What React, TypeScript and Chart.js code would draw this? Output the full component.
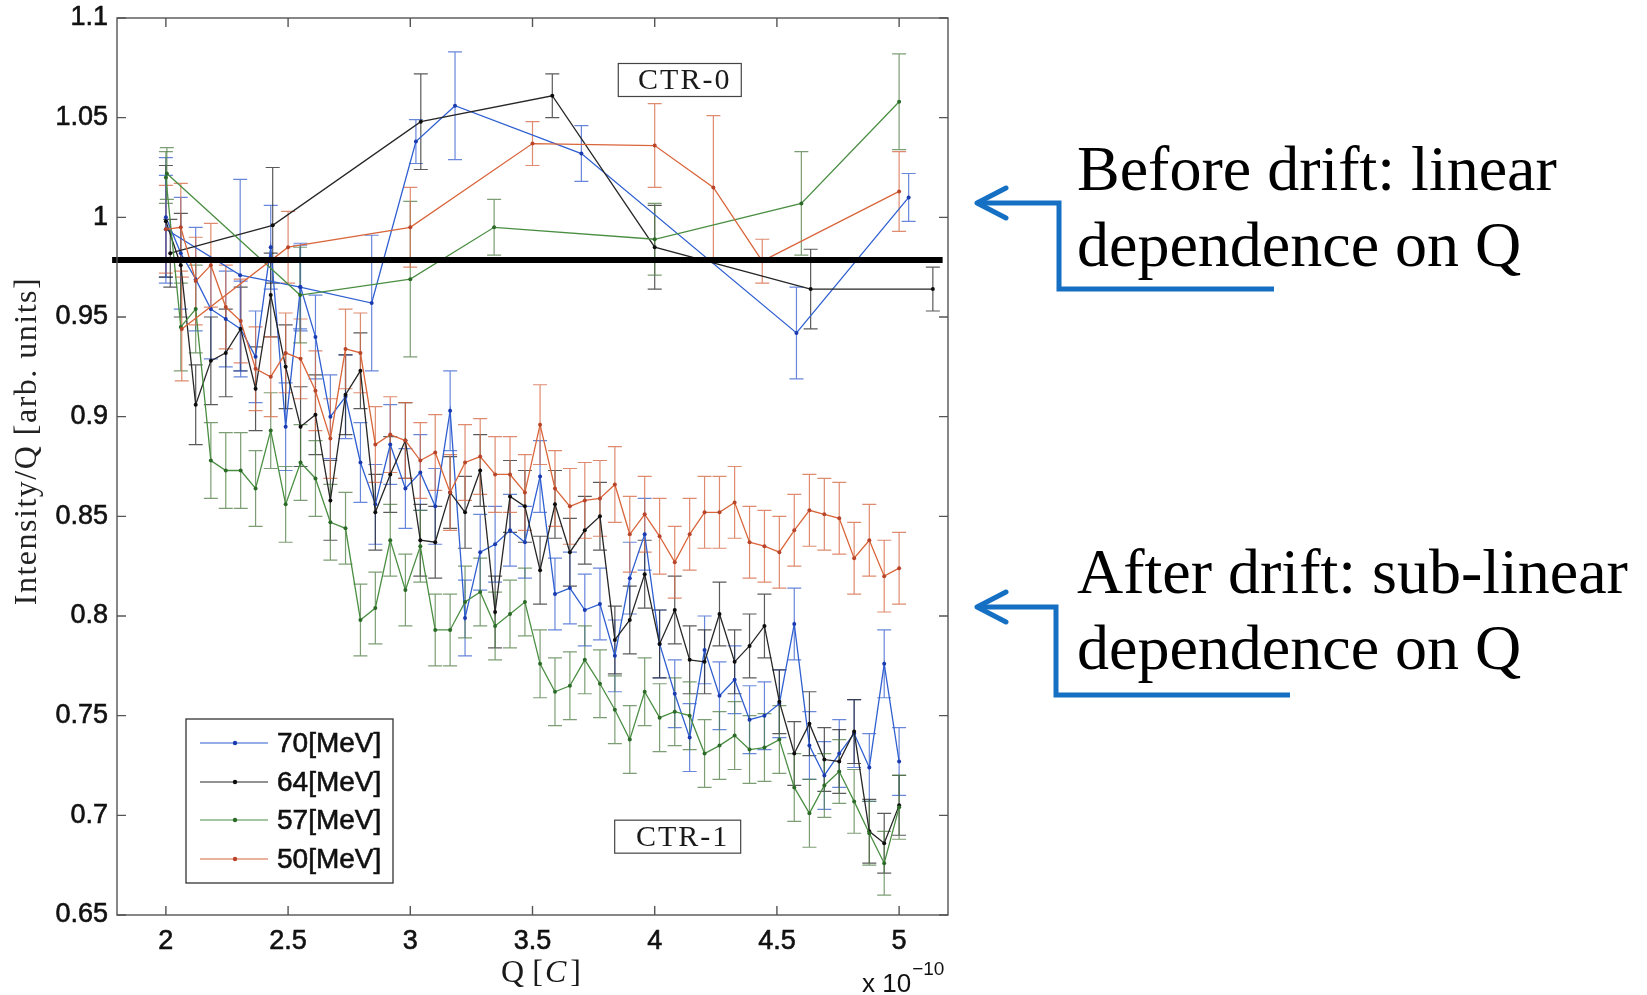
import React, { useEffect, useRef } from 'react';
import { Chart, registerables } from 'chart.js';
Chart.register(...registerables);

// ---------- data ----------
const seriesLabels = ['70[MeV]', '64[MeV]', '57[MeV]', '50[MeV]'];

// CTR-1 (after drift) – common charge values (units of 1e-10 C)
const qCtr1 = [2.000, 2.061, 2.122, 2.184, 2.245, 2.306, 2.367, 2.429, 2.490, 2.551,
  2.612, 2.673, 2.735, 2.796, 2.857, 2.918, 2.980, 3.041, 3.102, 3.163,
  3.224, 3.286, 3.347, 3.408, 3.469, 3.531, 3.592, 3.653, 3.714, 3.776,
  3.837, 3.898, 3.959, 4.020, 4.082, 4.143, 4.204, 4.265, 4.327, 4.388,
  4.449, 4.510, 4.571, 4.633, 4.694, 4.755, 4.816, 4.878, 4.939, 5.000];

const blueCtr1 = [1.000, 0.982, 0.969, 0.954, 0.949, 0.944, 0.930, 0.985, 0.895, 0.965,
  0.940, 0.900, 0.910, 0.877, 0.856, 0.886, 0.864, 0.872, 0.855, 0.903,
  0.799, 0.832, 0.836, 0.843, 0.837, 0.870, 0.811, 0.814, 0.803, 0.806,
  0.780, 0.819, 0.841, 0.786, 0.761, 0.739, 0.783, 0.760, 0.768, 0.748,
  0.750, 0.756, 0.796, 0.735, 0.720, 0.731, 0.741, 0.724, 0.776, 0.727];
const blueCtr1Err = [0.030, 0.028, 0.026, 0.025, 0.024, 0.024, 0.023, 0.021, 0.022, 0.022,
  0.021, 0.021, 0.021, 0.020, 0.020, 0.020, 0.020, 0.019, 0.019, 0.020,
  0.019, 0.019, 0.019, 0.018, 0.018, 0.018, 0.018, 0.018, 0.018, 0.018,
  0.018, 0.018, 0.018, 0.017, 0.017, 0.017, 0.017, 0.017, 0.017, 0.017,
  0.017, 0.017, 0.018, 0.017, 0.017, 0.017, 0.017, 0.017, 0.017, 0.017];

const blackCtr1 = [0.998, 0.976, 0.906, 0.928, 0.932, 0.944, 0.914, 0.961, 0.925, 0.895,
  0.901, 0.858, 0.911, 0.923, 0.852, 0.871, 0.888, 0.838, 0.837, 0.862,
  0.852, 0.873, 0.802, 0.860, 0.855, 0.823, 0.856, 0.832, 0.843, 0.850,
  0.788, 0.798, 0.821, 0.786, 0.803, 0.778, 0.777, 0.801, 0.777, 0.785,
  0.795, 0.757, 0.731, 0.746, 0.728, 0.727, 0.742, 0.692, 0.686, 0.705];
const blackCtr1Err = [0.028, 0.026, 0.020, 0.022, 0.022, 0.021, 0.021, 0.021, 0.021, 0.020,
  0.020, 0.020, 0.020, 0.019, 0.019, 0.019, 0.019, 0.018, 0.018, 0.018,
  0.018, 0.018, 0.018, 0.018, 0.018, 0.017, 0.017, 0.017, 0.017, 0.017,
  0.017, 0.017, 0.017, 0.017, 0.017, 0.017, 0.016, 0.016, 0.016, 0.016,
  0.016, 0.016, 0.016, 0.016, 0.016, 0.016, 0.016, 0.016, 0.015, 0.015];

const greenCtr1 = [1.020, 0.945, 0.954, 0.878, 0.873, 0.873, 0.864, 0.893, 0.856, 0.877,
  0.869, 0.847, 0.844, 0.798, 0.804, 0.838, 0.813, 0.835, 0.793, 0.793,
  0.807, 0.812, 0.795, 0.801, 0.807, 0.776, 0.762, 0.765, 0.778, 0.766,
  0.753, 0.738, 0.762, 0.749, 0.752, 0.750, 0.731, 0.735, 0.740, 0.733,
  0.734, 0.738, 0.714, 0.701, 0.715, 0.722, 0.707, 0.691, 0.676, 0.704];
const greenCtr1Err = [0.013, 0.022, 0.022, 0.019, 0.019, 0.019, 0.019, 0.019, 0.019, 0.019,
  0.019, 0.019, 0.018, 0.018, 0.018, 0.018, 0.018, 0.018, 0.018, 0.018,
  0.018, 0.017, 0.017, 0.017, 0.017, 0.017, 0.017, 0.017, 0.017, 0.017,
  0.017, 0.017, 0.017, 0.017, 0.017, 0.017, 0.017, 0.017, 0.017, 0.017,
  0.017, 0.017, 0.017, 0.017, 0.016, 0.016, 0.016, 0.016, 0.016, 0.016];

const orangeCtr1 = [0.994, 0.995, 0.968, 0.976, 0.955, 0.948, 0.924, 0.920, 0.932, 0.929,
  0.913, 0.889, 0.934, 0.932, 0.886, 0.891, 0.888, 0.878, 0.882, 0.862,
  0.877, 0.880, 0.871, 0.871, 0.862, 0.896, 0.864, 0.855, 0.858, 0.859,
  0.866, 0.841, 0.851, 0.840, 0.827, 0.841, 0.852, 0.852, 0.857, 0.837,
  0.835, 0.832, 0.843, 0.853, 0.851, 0.849, 0.829, 0.838, 0.820, 0.824];
const orangeCtr1Err = [0.022, 0.022, 0.022, 0.021, 0.021, 0.021, 0.021, 0.020, 0.020, 0.020,
  0.020, 0.020, 0.020, 0.020, 0.019, 0.019, 0.019, 0.019, 0.019, 0.019,
  0.019, 0.019, 0.019, 0.019, 0.019, 0.020, 0.019, 0.019, 0.019, 0.019,
  0.019, 0.019, 0.019, 0.019, 0.018, 0.018, 0.018, 0.018, 0.018, 0.018,
  0.018, 0.018, 0.018, 0.018, 0.018, 0.018, 0.018, 0.018, 0.018, 0.018];

// CTR-0 (before drift) – sparse points
const blueCtr0Q = [2.000, 2.304, 2.549, 2.842, 3.023, 3.183, 3.700, 4.580, 5.039];
const blueCtr0 = [0.994, 0.971, 0.965, 0.957, 1.038, 1.056, 1.032, 0.942, 1.010];
const blueCtr0Err = [0.027, 0.048, 0.021, 0.034, 0.011, 0.027, 0.014, 0.023, 0.012];

const blackCtr0Q = [2.018, 2.437, 3.043, 3.581, 4.000, 4.638, 5.138];
const blackCtr0 = [0.982, 0.996, 1.048, 1.061, 0.985, 0.964, 0.964];
const blackCtr0Err = [0.017, 0.029, 0.024, 0.011, 0.021, 0.020, 0.011];

const greenCtr0Q = [2.004, 2.549, 3.000, 3.343, 4.000, 4.600, 5.000];
const greenCtr0 = [1.022, 0.961, 0.969, 0.995, 0.989, 1.007, 1.058];
const greenCtr0Err = [0.013, 0.024, 0.039, 0.014, 0.018, 0.026, 0.024];

const orangeCtr0Q = [2.065, 2.500, 3.000, 3.500, 4.000, 4.240, 4.440, 5.000];
const orangeCtr0 = [0.944, 0.985, 0.995, 1.037, 1.036, 1.015, 0.978, 1.013];
const orangeCtr0Err = [0.026, 0.018, 0.020, 0.011, 0.021, 0.036, 0.011, 0.020];

// linear-dependence reference line
const refLineQ = [1.78, 5.178];
const refLineValue = 0.9786;

const xTicks = [2, 2.5, 3, 3.5, 4, 4.5, 5];
const yTicks = [0.65, 0.7, 0.75, 0.8, 0.85, 0.9, 0.95, 1, 1.05, 1.1];

// ---------- styles ----------
const lineColors = ['#2f5fd0', '#262626', '#4a8e42', '#d9653a'];
const pointColors = ['#1a3ab0', '#0d0d0d', '#2b6b27', '#b8442a'];
const errColors = ['rgba(55,95,205,0.75)', 'rgba(35,35,35,0.75)', 'rgba(80,125,70,0.75)', 'rgba(215,110,75,0.8)'];

const SANS = '"Liberation Sans", Arial, sans-serif';
const SERIF = '"Liberation Serif", "Times New Roman", serif';

const mk = (qs: number[], vs: number[]) => qs.map((q, i) => ({ x: q, y: vs[i] }));

function series(idx: number, label: string, qs: number[], vs: number[], errs: number[]) {
  return {
    label,
    data: mk(qs, vs),
    errorBars: errs,
    errColor: errColors[idx],
    borderColor: lineColors[idx],
    backgroundColor: pointColors[idx],
    pointBackgroundColor: pointColors[idx],
    pointBorderColor: pointColors[idx],
    pointRadius: 2,
    pointBorderWidth: 0,
    borderWidth: 1.3,
    tension: 0,
    order: 4 - idx + 1,
  };
}

const customPlugin = {
  id: 'custom',
  beforeDatasetsDraw(chart: any) {
    const ctx = chart.ctx;
    const xs = chart.scales.x;
    const ys = chart.scales.y;
    ctx.save();
    chart.data.datasets.forEach((ds: any) => {
      if (!ds.errorBars) return;
      ctx.strokeStyle = ds.errColor;
      ctx.lineWidth = 1.2;
      ds.data.forEach((p: any, i: number) => {
        const e = ds.errorBars[i];
        const px = xs.getPixelForValue(p.x);
        const y1 = ys.getPixelForValue(p.y + e);
        const y2 = ys.getPixelForValue(p.y - e);
        ctx.beginPath();
        ctx.moveTo(px, y1); ctx.lineTo(px, y2);
        ctx.moveTo(px - 7, y1); ctx.lineTo(px + 7, y1);
        ctx.moveTo(px - 7, y2); ctx.lineTo(px + 7, y2);
        ctx.stroke();
      });
    });
    ctx.restore();
  },
  afterDraw(chart: any) {
    const ctx = chart.ctx;
    const { left, right, top, bottom } = chart.chartArea;
    const xs = chart.scales.x;
    const ys = chart.scales.y;
    ctx.save();
    // frame
    ctx.strokeStyle = '#555';
    ctx.lineWidth = 1.4;
    ctx.strokeRect(left, top, right - left, bottom - top);
    // inward ticks
    ctx.beginPath();
    xTicks.forEach((v) => {
      const px = xs.getPixelForValue(v);
      ctx.moveTo(px, bottom); ctx.lineTo(px, bottom - 9);
      ctx.moveTo(px, top); ctx.lineTo(px, top + 9);
    });
    yTicks.forEach((v) => {
      const py = ys.getPixelForValue(v);
      ctx.moveTo(left, py); ctx.lineTo(left + 9, py);
      ctx.moveTo(right, py); ctx.lineTo(right - 9, py);
    });
    ctx.stroke();

    // CTR labels
    const drawBox = (q: number, v: number, w: number, h: number, text: string) => {
      const cx = xs.getPixelForValue(q);
      const cy = ys.getPixelForValue(v);
      ctx.fillStyle = '#fff';
      ctx.fillRect(cx - w / 2, cy - h / 2, w, h);
      ctx.strokeStyle = '#444';
      ctx.lineWidth = 1.2;
      ctx.strokeRect(cx - w / 2, cy - h / 2, w, h);
      ctx.fillStyle = '#1a1a1a';
      ctx.font = `30px ${SERIF}`;
      (ctx as any).letterSpacing = '2px';
      ctx.textAlign = 'center';
      ctx.textBaseline = 'middle';
      ctx.fillText(text, cx + 5, cy + 1);
      (ctx as any).letterSpacing = '0px';
    };
    drawBox(4.1026, 1.0689, 123, 33, 'CTR-0');
    drawBox(4.094, 0.6893, 126, 33, 'CTR-1');

    // legend
    const lx = 186, ly = 719, lw = 207, lh = 164;
    ctx.fillStyle = '#fff';
    ctx.fillRect(lx, ly, lw, lh);
    ctx.strokeStyle = '#333';
    ctx.lineWidth = 1.3;
    ctx.strokeRect(lx, ly, lw, lh);
    const rowY = [743, 782, 820, 859];
    seriesLabels.forEach((lab, i) => {
      const y = rowY[i];
      ctx.strokeStyle = lineColors[i];
      ctx.lineWidth = 1.2;
      ctx.beginPath(); ctx.moveTo(200, y); ctx.lineTo(268, y); ctx.stroke();
      ctx.fillStyle = pointColors[i];
      ctx.beginPath(); ctx.arc(235, y, 2.2, 0, Math.PI * 2); ctx.fill();
      ctx.fillStyle = '#111';
      ctx.strokeStyle = '#111';
      ctx.lineWidth = 0.6;
      ctx.font = `28px ${SANS}`;
      ctx.textAlign = 'left';
      ctx.textBaseline = 'middle';
      ctx.fillText(lab, 277, y + 1);
      ctx.strokeText(lab, 277, y + 1);
    });

    // y axis title
    ctx.save();
    ctx.translate(28, 441);
    ctx.rotate(-Math.PI / 2);
    ctx.fillStyle = '#222';
    ctx.font = `32px ${SERIF}`;
    (ctx as any).letterSpacing = '1.5px';
    ctx.textAlign = 'center';
    ctx.textBaseline = 'middle';
    ctx.fillText('Intensity/Q [arb. units]', 0, 0);
    ctx.restore();

    // x axis title  Q [C]
    ctx.fillStyle = '#1a1a1a';
    ctx.textBaseline = 'alphabetic';
    ctx.textAlign = 'left';
    const partA = 'Q [';
    const partB = 'C';
    const partC = ']';
    ctx.font = `32px ${SERIF}`;
    const wA = ctx.measureText(partA).width;
    const wC = ctx.measureText(partC).width;
    ctx.font = `italic 32px ${SERIF}`;
    const wB = ctx.measureText(partB).width;
    let sx = 541 - (wA + wB + wC + 6) / 2;
    ctx.font = `32px ${SERIF}`;
    ctx.fillText(partA, sx, 982);
    sx += wA + 2;
    ctx.font = `italic 32px ${SERIF}`;
    ctx.fillText(partB, sx, 982);
    sx += wB + 4;
    ctx.font = `32px ${SERIF}`;
    ctx.fillText(partC, sx, 982);

    // x 10^-10
    ctx.fillStyle = '#111';
    ctx.font = `26px ${SANS}`;
    ctx.fillText('x 10', 862, 992);
    const w10 = ctx.measureText('x 10').width;
    ctx.font = `19px ${SANS}`;
    ctx.fillText('\u221210', 862 + w10 + 1, 975);

    // right annotations
    ctx.fillStyle = '#000';
    ctx.font = `64px ${SERIF}`;
    ctx.fillText('Before drift: linear', 1077, 190);
    ctx.fillText('dependence on Q', 1077, 266);
    ctx.fillText('After drift: sub-linear', 1077, 593);
    ctx.fillText('dependence on Q', 1077, 669);

    const arrow = (tipY: number, vx: number, bottomY: number, endX: number) => {
      ctx.strokeStyle = '#1570c4';
      ctx.lineWidth = 5;
      ctx.lineJoin = 'miter';
      ctx.lineCap = 'butt';
      ctx.beginPath();
      ctx.moveTo(979, tipY);
      ctx.lineTo(vx, tipY);
      ctx.lineTo(vx, bottomY);
      ctx.lineTo(endX, bottomY);
      ctx.stroke();
      ctx.lineCap = 'round';
      ctx.lineJoin = 'round';
      ctx.beginPath();
      ctx.moveTo(1006, tipY - 15);
      ctx.lineTo(977, tipY);
      ctx.lineTo(1006, tipY + 15);
      ctx.stroke();
    };
    arrow(203, 1059, 289, 1274);
    arrow(607, 1056, 695, 1290);

    ctx.restore();
  },
};

const zeroPad = (s: any) => {
  s.paddingTop = 0;
  s.paddingBottom = 0;
  s.paddingLeft = 0;
  s.paddingRight = 0;
};

export default function App() {
  const ref = useRef<HTMLCanvasElement>(null);
  useEffect(() => {
    if (!ref.current) return;
    const datasets: any[] = [
      series(0, seriesLabels[0], qCtr1, blueCtr1, blueCtr1Err),
      series(1, seriesLabels[1], qCtr1, blackCtr1, blackCtr1Err),
      series(2, seriesLabels[2], qCtr1, greenCtr1, greenCtr1Err),
      series(3, seriesLabels[3], qCtr1, orangeCtr1, orangeCtr1Err),
      series(0, seriesLabels[0] + ' CTR-0', blueCtr0Q, blueCtr0, blueCtr0Err),
      series(1, seriesLabels[1] + ' CTR-0', blackCtr0Q, blackCtr0, blackCtr0Err),
      series(2, seriesLabels[2] + ' CTR-0', greenCtr0Q, greenCtr0, greenCtr0Err),
      series(3, seriesLabels[3] + ' CTR-0', orangeCtr0Q, orangeCtr0, orangeCtr0Err),
      {
        label: 'reference',
        data: refLineQ.map((q) => ({ x: q, y: refLineValue })),
        borderColor: '#000',
        borderWidth: 6,
        pointRadius: 0,
        clip: false,
        order: 0,
      },
    ];
    const tickFont = { family: SANS, size: 27 };
    const chart = new Chart(ref.current, {
      type: 'line',
      data: { datasets },
      options: {
        animation: false,
        responsive: false,
        maintainAspectRatio: false,
        layout: { padding: { top: 18, left: 0, right: 699, bottom: 0 } },
        plugins: { legend: { display: false }, tooltip: { enabled: false } },
        scales: {
          x: {
            type: 'linear',
            min: 1.8,
            max: 5.2,
            grid: { display: false, drawTicks: false, tickLength: 0 },
            border: { display: false },
            afterBuildTicks: (s: any) => { s.ticks = xTicks.map((v) => ({ value: v })); },
            afterFit: (s: any) => { s.height = 80; zeroPad(s); },
            ticks: {
              autoSkip: false,
              maxRotation: 0,
              padding: 10,
              color: '#111',
              textStrokeColor: '#111',
              textStrokeWidth: 0.6,
              font: tickFont,
              callback: (v: any) => `${+Number(v).toFixed(2)}`,
            },
          },
          y: {
            type: 'linear',
            min: 0.65,
            max: 1.1,
            grid: { display: false, drawTicks: false, tickLength: 0 },
            border: { display: false },
            afterBuildTicks: (s: any) => { s.ticks = yTicks.map((v) => ({ value: v })); },
            afterFit: (s: any) => { s.width = 117; zeroPad(s); },
            ticks: {
              autoSkip: false,
              padding: 9,
              color: '#111',
              textStrokeColor: '#111',
              textStrokeWidth: 0.6,
              font: tickFont,
              callback: (v: any) => `${+Number(v).toFixed(2)}`,
            },
          },
        },
      },
      plugins: [customPlugin],
    });
    return () => chart.destroy();
  }, []);
  return (
    <div style={{ position: 'fixed', left: 0, top: 0, width: 1647, height: 995, background: '#fff' }}>
      <canvas ref={ref} width={1647} height={995} />
    </div>
  );
}
